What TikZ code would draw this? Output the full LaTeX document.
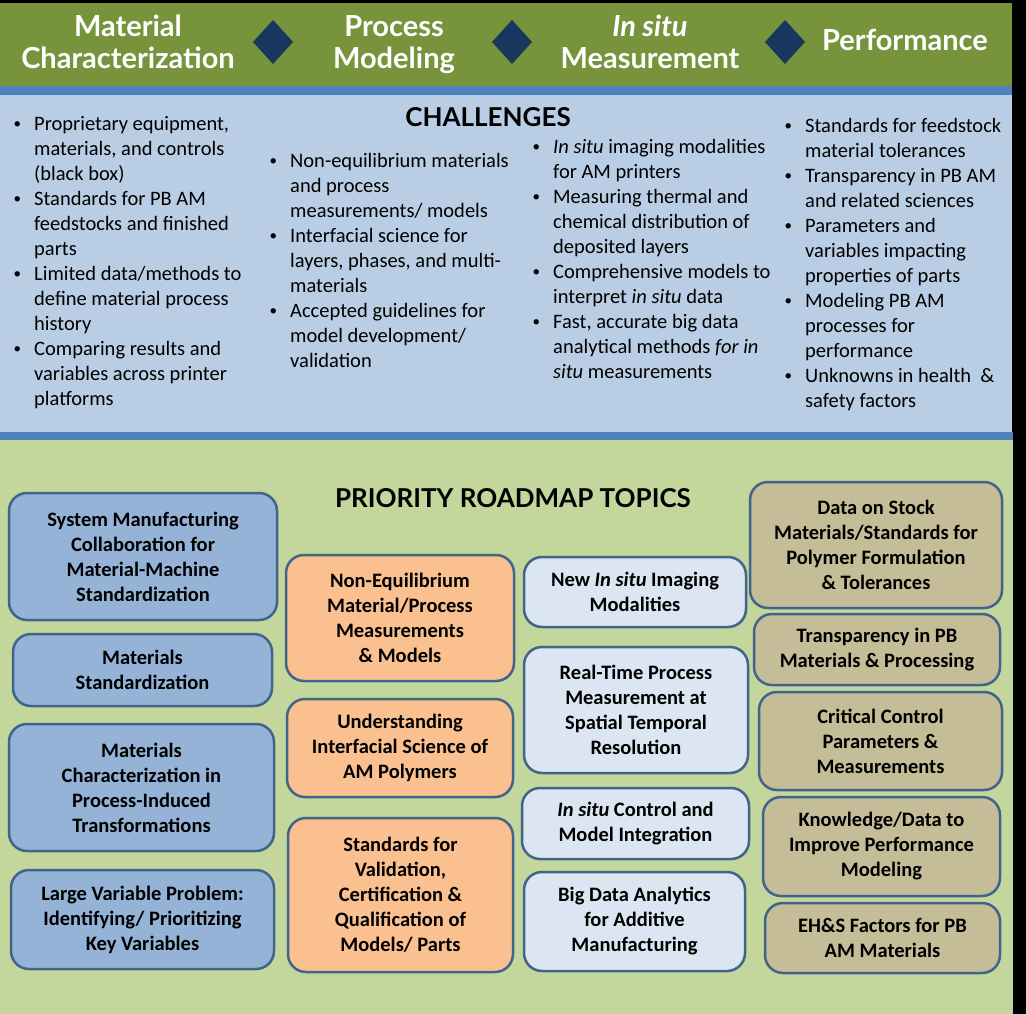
\documentclass[tikz,border=0pt]{standalone}
\usepackage{fontspec}
\setmainfont{Carlito}
\newfontfamily\headfont{Lato}
\usetikzlibrary{positioning}

\definecolor{bandgreen}{HTML}{77933C}
\definecolor{stripeblue}{HTML}{4F81BD}
\definecolor{challblue}{HTML}{B9CDE5}
\definecolor{topicgreen}{HTML}{C3D69B}
\definecolor{diamondblue}{HTML}{17375E}
\definecolor{edgeblue}{HTML}{41658A}
\definecolor{fillmat}{HTML}{95B3D7}
\definecolor{fillproc}{HTML}{FAC090}
\definecolor{fillsitu}{HTML}{DCE6F2}
\definecolor{fillperf}{HTML}{C4BD97}

\newcommand{\bul}{\llap{\raisebox{1.5pt}{\fontsize{15}{15}\selectfont\textbullet}\hspace{13pt}}}

\begin{document}
\begin{tikzpicture}[x=1pt,y=-1pt,
	topic/.style={draw=edgeblue, line width=2.5pt, rounded corners=18pt, align=center, inner sep=0pt,
		font=\bfseries\fontsize{20.5}{25}\selectfont},
	heading/.style={text=white, align=center, anchor=base, font=\headfont\bfseries\fontsize{29}{32}\selectfont},
	sectitle/.style={anchor=base, font=\headfont\bfseries\fontsize{26}{30}\selectfont},
	bullets/.style={align=left, inner sep=0pt, anchor=base west, font=\fontsize{20.5}{25}\selectfont}]
		\useasboundingbox (0,0) rectangle (1026,1014);
		% bands
		\fill[black] (0,0) rectangle (1026,1014);
		\fill[bandgreen] (0,3) rectangle (1012,86);
		\fill[stripeblue] (0,86) rectangle (1012,95);
		\fill[challblue] (0,95) rectangle (1012,432);
		\fill[stripeblue] (0,432) rectangle (1013,440);
		\fill[topicgreen] (0,440) rectangle (1013,1014);
		
		% header (base = last line)
		\foreach \x in {273,512,785}{
			\fill[diamondblue] (\x,20) -- ++(20,22) -- ++(-20,22) -- ++(-20,-22) -- cycle;
		}
		\node[heading] (mathead) at (128,69) {Material\\Characterization};
		\node[heading] (prochead) at (394,69) {Process\\Modeling};
		\node[heading] (situhead) at (650,69) {\textit{In situ}\\Measurement};
		\node[heading] (perfhead) at (905,51) {Performance};
		
		% challenges
		\node[sectitle] (challtitle) at (488,127) {CHALLENGES};
		\node[bullets] (chmat) at (34,405) {\bul Proprietary equipment,\\materials, and controls\\(black box)\\
			\bul Standards for PB AM\\feedstocks and finished\\parts\\
			\bul Limited data/methods to\\define material process\\history\\
			\bul Comparing results and\\variables across printer\\platforms};
		\node[bullets] (chproc) at (290,367) {\bul Non-equilibrium materials\\and process\\measurements/ models\\
			\bul Interfacial science for\\layers, phases, and multi-\\materials\\
			\bul Accepted guidelines for\\model development/\\validation};
		\node[bullets] (chsitu) at (553,378) {\bul \textit{In situ} imaging modalities\\for AM printers\\
			\bul Measuring thermal and\\chemical distribution of\\deposited layers\\
			\bul Comprehensive models to\\interpret \textit{in situ} data\\
			\bul Fast, accurate big data\\analytical methods \textit{for in}\\\textit{situ} measurements};
		\node[bullets] (chperf) at (805,407) {\bul Standards for feedstock\\material tolerances\\
			\bul Transparency in PB AM\\and related sciences\\
			\bul Parameters and\\variables impacting\\properties of parts\\
			\bul Modeling PB AM\\processes for\\performance\\
			\bul Unknowns in health \ \&\\safety factors};
		
		% roadmap topics
		\node[sectitle] (topictitle) at (513,507) {PRIORITY ROADMAP TOPICS};
		\foreach \nm/\cx/\cy/\w/\h/\txt in {
			matsys/143/556.5/268/127/{System Manufacturing\\Collaboration for\\Material-Machine\\Standardization},
			matstd/142.5/670/259/72/{Materials\\Standardization},
			matchar/141.5/787.5/265/127/{Materials\\Characterization in\\Process-Induced\\Transformations},
			matvar/142.5/919.5/263/99/{Large Variable Problem:\\Identifying/ Prioritizing\\Key Variables}}{
			\node[topic, fill=fillmat, minimum width=\w, minimum height=\h] (\nm) at (\cx,\cy) {\txt};
		}
		\foreach \nm/\cx/\cy/\w/\h/\txt in {
			procneq/400/618/228/126/{Non-Equilibrium\\Material/Process\\Measurements\\\& Models},
			procint/400/748/226/98/{Understanding\\Interfacial Science of\\AM Polymers},
			procval/400.5/895/225/154/{Standards for\\Validation,\\Certification \&\\Qualification of\\Models/ Parts}}{
			\node[topic, fill=fillproc, minimum width=\w, minimum height=\h] (\nm) at (\cx,\cy) {\txt};
		}
		\foreach \nm/\cx/\cy/\w/\h/\txt in {
			situimg/635/592/222/70/{New \textit{In situ} Imaging\\Modalities},
			situreal/636/710/224/126/{Real-Time Process\\Measurement at\\Spatial Temporal\\Resolution},
			situctrl/635.5/823.5/227/71/{\textit{In situ} Control and\\Model Integration},
			situbig/634.5/921.5/221/99/{Big Data Analytics\\for Additive\\Manufacturing}}{
			\node[topic, fill=fillsitu, minimum width=\w, minimum height=\h] (\nm) at (\cx,\cy) {\txt};
		}
		\foreach \nm/\cx/\cy/\w/\h/\txt in {
			perfdata/876/545/252/126/{Data on Stock\\Materials/Standards for\\Polymer Formulation\\\& Tolerances},
			perftrans/877/649.5/246/71/{Transparency in PB\\Materials \& Processing},
			perfctrl/880.5/741/243/98/{Critical Control\\Parameters \&\\Measurements},
			perfknow/881.5/846.5/237/99/{Knowledge/Data to\\Improve Performance\\Modeling},
			perfehs/882.5/938/235/70/{EH\&S Factors for PB\\AM Materials}}{
			\node[topic, fill=fillperf, minimum width=\w, minimum height=\h] (\nm) at (\cx,\cy) {\txt};
		}
\end{tikzpicture}
\end{document}
